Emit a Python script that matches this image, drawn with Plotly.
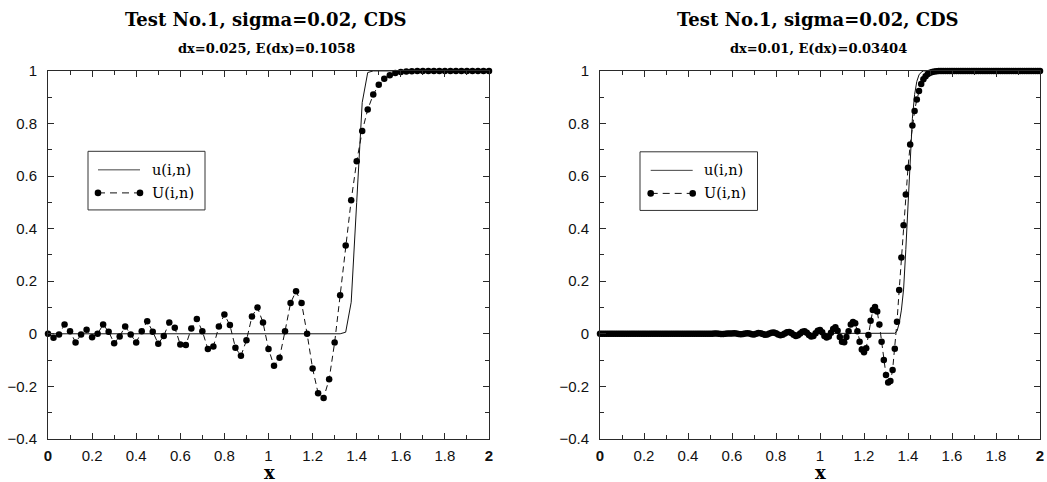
import plotly.graph_objects as go

# ---------------- data ----------------
dx_left = 0.025
dx_right = 0.01
x_left = [round(i * dx_left, 3) for i in range(81)]
x_right = [round(i * dx_right, 2) for i in range(201)]

# exact solution u(i,n), dx = 0.025
u_left = [0.0] * 54 + [0.006, 0.12, 0.50, 0.88, 0.994, 1.0] + [1.0] * 21

# numerical solution U(i,n), dx = 0.025
U_left = [
    0.000, -0.015, -0.003, 0.035, 0.010, -0.033, -0.003, 0.015, -0.013, 0.000,
    0.035, 0.008, -0.036, -0.010, 0.028, -0.003, -0.033, 0.010, 0.048, 0.008,
    -0.038, -0.008, 0.043, 0.023, -0.041, -0.043, 0.020, 0.056, 0.010, -0.058,
    -0.048, 0.028, 0.073, 0.033, -0.053, -0.084, -0.025, 0.066, 0.100, 0.043,
    -0.058, -0.122, -0.091, 0.010, 0.117, 0.162, 0.117, 0.000, -0.132, -0.226,
    -0.244, -0.173, -0.033, 0.147, 0.336, 0.508, 0.656, 0.771, 0.853, 0.910,
    0.947, 0.970, 0.984, 0.992, 0.996, 0.998, 0.999,
] + [1.0] * 14

# exact solution u(i,n), dx = 0.01
u_right = [0.0] * 134 + [0.002, 0.010, 0.040, 0.090, 0.170, 0.320, 0.500,
                         0.680, 0.820, 0.910, 0.960, 0.985, 0.995] + [1.0] * 54

# numerical solution U(i,n), dx = 0.01
U_right = (
    [0.0] * 50
    + [0.000, 0.000, 0.001, 0.001, 0.000, -0.001, -0.001, 0.000, 0.001, 0.001]
    + [0.001, 0.002, 0.001, -0.001, -0.002, -0.001, 0.001, 0.002, 0.001, -0.002]
    + [-0.003, 0.000, 0.003, 0.002, -0.001, -0.004, -0.003, 0.001, 0.004, 0.005]
    + [0.002, -0.003, -0.006, -0.004, 0.001, 0.006, 0.007, 0.003, -0.004, -0.008]
    + [-0.006, 0.001, 0.008, 0.010, 0.004, -0.005, -0.010, -0.008, 0.002, 0.012]
    + [0.014, 0.006, -0.008, -0.014, -0.010, 0.004, 0.018, 0.025, 0.012, -0.012]
    + [-0.030, -0.032, -0.012, 0.010, 0.035, 0.045, 0.040, 0.010, -0.030, -0.060]
    + [-0.070, -0.055, -0.005, 0.050, 0.090, 0.102, 0.085, 0.035, -0.030, -0.100]
    + [-0.157, -0.185, -0.180, -0.138, -0.057, 0.046, 0.167, 0.290, 0.413, 0.530]
    + [0.632, 0.720, 0.792, 0.848, 0.891, 0.924, 0.950, 0.968, 0.980, 0.988]
    + [0.993, 0.996, 0.998, 0.999, 1.0, 1.0, 1.0, 1.0, 1.0, 1.0]
    + [1.0] * 41
)

title_main = "Test No.1, sigma=0.02, CDS"
subtitles = ["dx=0.025, E(dx)=0.1058", "dx=0.01, E(dx)=0.03404"]
x_tickvals = [0, 0.2, 0.4, 0.6, 0.8, 1, 1.2, 1.4, 1.6, 1.8, 2]
x_ticktext = ["<b>0</b>", "0.2", "0.4", "0.6", "0.8", "1", "1.2", "1.4", "1.6", "1.8", "<b>2</b>"]
legend_labels = ["u(i,n)", "U(i,n)"]

# ---------------- layout helpers ----------------
W, H = 1047, 482
# the rendered paper area is slightly inset inside the page; map page pixels to paper
PL, PW = 4.0, 1039.0
PT, PH = 9.0, 464.0


def px(x):
    return (x - PL) / PW


def py(y):
    return 1 - (y - PT) / PH


AX = "#2a2a2a"
SERIF = "DejaVu Serif, serif"
SANS = "Liberation Sans, Arial, sans-serif"

fig = go.Figure()

panels = [
    dict(x=x_left, u=u_left, U=U_left, xa="x", ya="y", msize=6.5),
    dict(x=x_right, u=u_right, U=U_right, xa="x2", ya="y2", msize=6.5),
]
for p in panels:
    fig.add_trace(go.Scatter(x=p["x"], y=p["u"], mode="lines",
                             line=dict(color="#111", width=1),
                             xaxis=p["xa"], yaxis=p["ya"], showlegend=False,
                             hoverinfo="skip"))
    fig.add_trace(go.Scatter(x=p["x"], y=p["U"], mode="lines+markers",
                             line=dict(color="#111", width=1, dash="6px,4px"),
                             marker=dict(color="black", size=p["msize"]),
                             xaxis=p["xa"], yaxis=p["ya"], showlegend=False,
                             cliponaxis=False))

x_dom = [[px(48), px(489)], [px(600), px(1040)]]
y_dom = [py(438), py(70.8)]

axis_common = dict(
    showgrid=False, zeroline=False, showline=True, linecolor=AX, linewidth=1,
    mirror="allticks", ticks="inside", ticklen=6, tickcolor=AX, tickwidth=1,
    tickfont=dict(family=SANS, size=15, color="#111"),
    minor=dict(ticks="inside", ticklen=4, tickcolor=AX, dtick=0.1, showgrid=False),
)

layout = dict(
    width=W, height=H, margin=dict(l=0, r=0, t=0, b=0),
    paper_bgcolor="white", plot_bgcolor="white", showlegend=False,
)
for i, suffix in enumerate(["", "2"]):
    layout["xaxis" + suffix] = dict(
        axis_common, domain=x_dom[i], range=[0, 2], tickmode="array",
        tickvals=x_tickvals, ticktext=x_ticktext, ticklabelstandoff=3,
        anchor="y" + suffix,
    )
    layout["yaxis" + suffix] = dict(
        axis_common, domain=y_dom, range=[-0.4, 1], dtick=0.2, tick0=0,
        ticklabelstandoff=7, anchor="x" + suffix,
    )
fig.update_layout(**layout)

# titles
centers = [266, 818]
for i in range(2):
    fig.add_annotation(x=px(centers[i]), y=py(19), xref="paper", yref="paper",
                       text="<b>" + title_main + "</b>", showarrow=False,
                       font=dict(family=SERIF, size=18, color="black"),
                       xanchor="center", yanchor="middle")
    fig.add_annotation(x=px(centers[i]), y=py(48), xref="paper", yref="paper",
                       text="<b>" + subtitles[i] + "</b>", showarrow=False,
                       font=dict(family=SERIF, size=13, color="black"),
                       xanchor="center", yanchor="middle")

# x-axis titles
for cx in [269, 820]:
    fig.add_annotation(x=px(cx), y=py(472), xref="paper", yref="paper",
                       text="<b>x</b>", showarrow=False,
                       font=dict(family=SERIF, size=18, color="black"),
                       xanchor="center", yanchor="middle")

# custom legends
legends = [
    dict(bx0=88, bx1=205, by0=151, by1=209.5, lx0=98, lx1=140, tx=150),
    dict(bx0=640, bx1=757.5, by0=151.5, by1=210, lx0=650.7, lx1=692.7, tx=702),
]
for L in legends:
    fig.add_shape(type="rect", xref="paper", yref="paper",
                  x0=px(L["bx0"]), x1=px(L["bx1"]), y0=py(L["by1"]), y1=py(L["by0"]),
                  line=dict(color="#333", width=1), fillcolor="white", layer="above")
    row1 = L["by0"] + 18.5
    row2 = L["by0"] + 41.5
    fig.add_shape(type="line", xref="paper", yref="paper",
                  x0=px(L["lx0"]), x1=px(L["lx1"]), y0=py(row1), y1=py(row1),
                  line=dict(color="#444", width=1), layer="above")
    fig.add_shape(type="line", xref="paper", yref="paper",
                  x0=px(L["lx0"]), x1=px(L["lx1"]), y0=py(row2), y1=py(row2),
                  line=dict(color="#111", width=1, dash="7px,5px"), layer="above")
    for cx in [L["lx0"], L["lx1"]]:
        fig.add_shape(type="circle", xref="paper", yref="paper",
                      xsizemode="pixel", ysizemode="pixel",
                      xanchor=px(cx), yanchor=py(row2),
                      x0=-3.3, x1=3.3, y0=-3.3, y1=3.3,
                      line=dict(color="black", width=0), fillcolor="black",
                      layer="above")
    for row, lab in zip([row1, row2], legend_labels):
        fig.add_annotation(x=px(L["tx"]), y=py(row), xref="paper", yref="paper",
                           text=lab, showarrow=False,
                           font=dict(family=SERIF, size=14.5, color="black"),
                           xanchor="left", yanchor="middle")

fig.write_html("out.html")
